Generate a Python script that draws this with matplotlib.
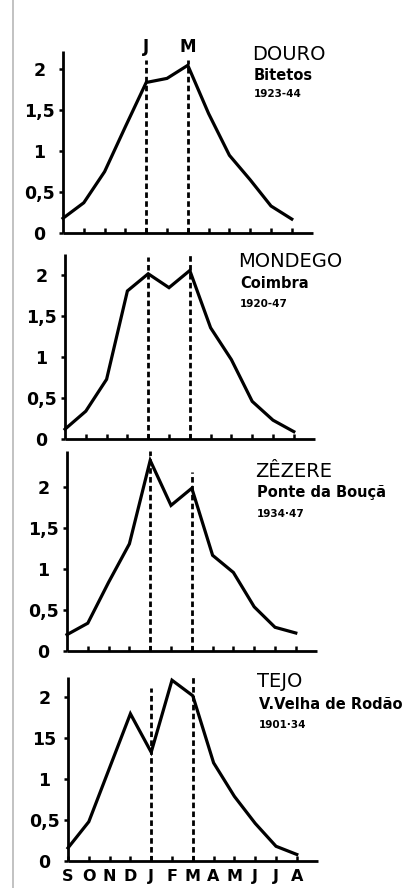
import matplotlib.pyplot as plt
from numpy import *

W, H = 416, 888

months = ['S', 'O', 'N', 'D', 'J', 'F', 'M', 'A', 'M', 'J', 'J', 'A']
yticks = [0, 0.5, 1, 1.5, 2]

rivers = ['DOURO', 'MONDEGO', 'ZÊZERE', 'TEJO']
stations = ['Bitetos', 'Coimbra', 'Ponte da Bouçã', 'V.Velha de Rodão']
periods = ['1923-44', '1920-47', '1934·47', '1901·34']

douro = [0.18, 0.37, 0.75, 1.30, 1.84, 1.89, 2.05, 1.46, 0.95, 0.65, 0.33, 0.17]
mondego = [0.12, 0.34, 0.73, 1.81, 2.02, 1.85, 2.06, 1.36, 0.97, 0.46, 0.23, 0.09]
zezere = [0.20, 0.34, 0.84, 1.31, 2.33, 1.78, 1.99, 1.17, 0.96, 0.54, 0.29, 0.22]
tejo = [0.16, 0.48, 1.14, 1.80, 1.33, 2.21, 2.02, 1.20, 0.79, 0.46, 0.18, 0.08]
series = [douro, mondego, zezere, tejo]

ylabels = [['0', '0,5', '1', '1,5', '2'],
           ['0', '0,5', '1', '1,5', '2'],
           ['0', '0,5', '1', '1,5', '2'],
           ['0', '0,5', '1', '15', '2']]

# layout (pixels): left of y axis, baseline y, top of y axis (data units)
lefts = [63, 65, 67, 68]
bases = [233, 439, 651, 861]
ytops = [2.23, 2.26, 2.45, 2.25]
dash_tops = [(2.11, 2.11), (2.22, 2.26), (2.44, 2.19), (2.12, 2.25)]
# title blocks: x, baselines of the three lines
titles = [(252, 60, 80, 97), (238, 267, 288, 307), (255, 477, 497, 517), (257, 687, 709, 728)]

px_month = 20.8
px_unit = 81.8

fig = plt.figure(figsize=(W / 100, H / 100), dpi=100)
fig.patch.set_facecolor('white')

for i in range(4):
    x0, y0, top = lefts[i], bases[i], ytops[i]
    w = 12 * px_month
    h = top * px_unit
    ax = fig.add_axes([x0 / W, (H - y0) / H, w / W, h / H])
    ax.set_xlim(0, 12)
    ax.set_ylim(0, top)
    ax.patch.set_alpha(0)
    for s in ['top', 'right']:
        ax.spines[s].set_visible(False)
    for s in ['left', 'bottom']:
        ax.spines[s].set_linewidth(2.0)
        ax.spines[s].set_capstyle('butt')

    x = arange(12)
    ax.plot(x, series[i], color='black', lw=2.3, solid_joinstyle='miter', clip_on=False)
    for m, t in zip([4, 6], dash_tops[i]):
        ax.plot([m, m], [0, t], color='black', lw=2.0, linestyle=(0, (2.0, 1.2)), clip_on=False)

    ax.set_yticks(yticks)
    ax.set_yticklabels(ylabels[i], fontsize=12.5, fontweight='bold', ha='center')
    ax.tick_params(axis='y', direction='out', length=3, width=1.8, pad=14)
    ax.set_xticks(arange(1, 12))
    ax.tick_params(axis='x', direction='in', length=3.5, width=1.8)
    if i == 3:
        ax.set_xticks(arange(12))
        ax.set_xticklabels(months, fontsize=11.5, fontweight='bold')
        ax.tick_params(axis='x', pad=6)
    else:
        ax.set_xticklabels([])

    tx, b1, b2, b3 = titles[i]
    fig.text(tx / W, 1 - b1 / H, rivers[i], fontsize=14, va='baseline', ha='left')
    fig.text((tx + 2) / W, 1 - b2 / H, stations[i], fontsize=10.5, fontweight='bold', va='baseline', ha='left')
    fig.text((tx + 2) / W, 1 - b3 / H, periods[i], fontsize=7.5, fontweight='bold', va='baseline', ha='left')

fig.text(146 / W, 1 - 47 / H, 'J', fontsize=12, fontweight='bold', ha='center', va='center')
fig.text(188 / W, 1 - 47 / H, 'M', fontsize=12, fontweight='bold', ha='center', va='center')

# scan edge on the left
fig.add_artist(plt.Line2D([12.5 / W, 12.5 / W], [0, 1], color='#b8b8b8', lw=1.2))

fig.savefig('out.png', dpi=100)
